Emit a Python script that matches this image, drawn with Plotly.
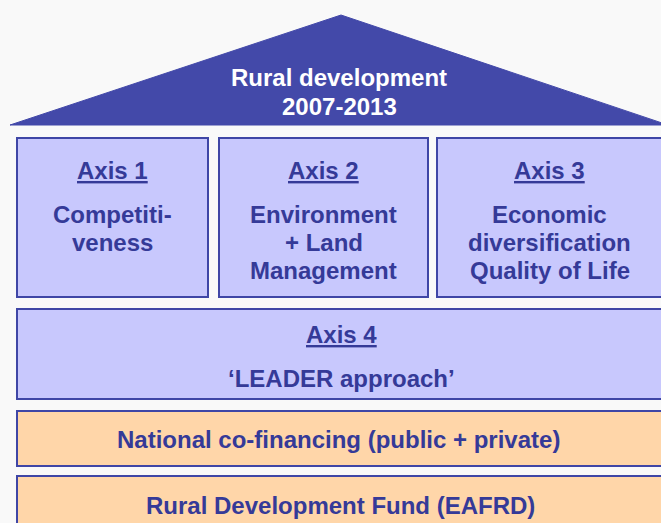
import plotly.graph_objects as go

W, H = 661, 523

# roof
roof_lines = ["Rural development", "2007-2013"]

# the three axis pillars
axis_titles = ["Axis 1", "Axis 2", "Axis 3"]
axis_texts = [
    ["Competiti-", "veness"],
    ["Environment", "+ Land", "Management"],
    ["Economic", "diversification", "Quality of Life"],
]

# horizontal layers
axis4_title = "Axis 4"
axis4_text = "\u2018LEADER approach\u2019"
base_texts = ["National co-financing (public + private)", "Rural Development Fund (EAFRD)"]

BLUE_DARK = "#4349a9"
BORDER = "#3f46a6"
LILAC = "#c8c8fd"
PEACH = "#ffd6a9"
TEXT = "#353a98"
FONT = "Liberation Sans, Arial, sans-serif"
FS = 24

fig = go.Figure()
shapes = []
ann = []


def txt(x, y, s, color=TEXT, size=FS):
    ann.append(dict(x=x, y=y, text="<b>" + s + "</b>", showarrow=False,
                    xanchor="center", yanchor="middle",
                    font=dict(family=FONT, size=size, color=color)))


def box(x0, y0, x1, y1, fill):
    shapes.append(dict(type="rect", x0=x0, y0=y0, x1=x1, y1=y1,
                       fillcolor=fill, line=dict(color=BORDER, width=2), layer="below"))


# roof triangle
shapes.append(dict(type="path", path="M 10 125 L 341 15 L 668 125 Z",
                   fillcolor=BLUE_DARK, line=dict(color=BLUE_DARK, width=1), layer="below"))
txt(339, 77, roof_lines[0], color="white")
txt(339, 106, roof_lines[1], color="white")

# pillars
pillars = [(17, 208), (219, 428), (437, 662)]
for (x0, x1), t, lines in zip(pillars, axis_titles, axis_texts):
    box(x0, 138, x1, 297, LILAC)
    cx = (x0 + x1) / 2
    txt(cx, 170, "<u>" + t + "</u>")
    for i, l in enumerate(lines):
        txt(cx, 214 + 28 * i, l)

# axis 4
box(17, 309, 670, 399, LILAC)
txt(341, 334, "<u>" + axis4_title + "</u>")
txt(341, 378, axis4_text)

# financing layers
box(17, 411, 670, 466, PEACH)
txt(338, 439, base_texts[0])
box(17, 476, 670, 530, PEACH)
txt(340, 505, base_texts[1])

fig.update_layout(
    width=W, height=H,
    margin=dict(l=0, r=0, t=0, b=0),
    paper_bgcolor="#f9f9f9", plot_bgcolor="#f9f9f9",
    shapes=shapes, annotations=ann,
    xaxis=dict(range=[0, W], visible=False, fixedrange=True),
    yaxis=dict(range=[H, 0], visible=False, fixedrange=True),
    showlegend=False,
)

fig.write_html("out.html", config={"displayModeBar": False},
               post_script="document.body.style.margin='0';document.body.style.background='#f9f9f9';")
